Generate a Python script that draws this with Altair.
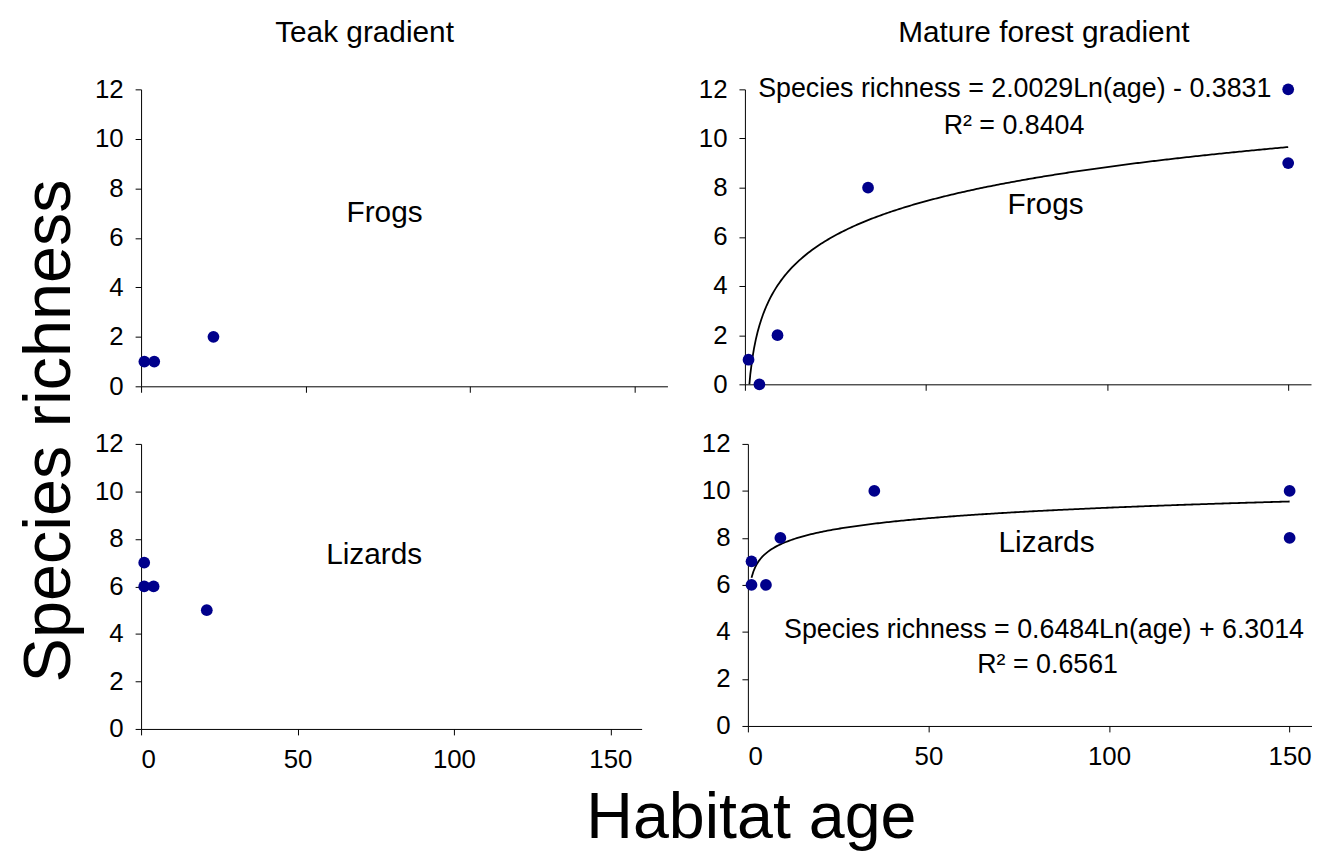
import altair as alt
import pandas as pd

# ---- data ----
teak_frog_age = [1, 4, 22]
teak_frog_rich = [1, 1, 2]
teak_liz_age = [1, 1, 4, 21]
teak_liz_rich = [7, 6, 6, 5]
mat_frog_age = [1, 4, 9, 34, 150, 150]
mat_frog_rich = [1, 0, 2, 8, 12, 9]
mat_liz_age = [1, 1, 5, 9, 35, 150, 150]
mat_liz_rich = [7, 6, 6, 8, 10, 10, 8]

# logarithmic trendlines shown in the figure: richness = a*ln(age) + b
frog_fit = [2.0029, -0.3831]
liz_fit = [0.6484, 6.3014]

x_ticks = [0, 50, 100, 150]
y_ticks = [0, 2, 4, 6, 8, 10, 12]

FONT = "Liberation Sans"
DOT = "#00008B"


def panel(ages, rich, width, height, xmax, xlabels, title=None, title_x=0,
          fit=None, group_label=None, eq=None):
    df = pd.DataFrame({"age": ages, "richness": rich})
    xs = alt.Scale(domain=[0, xmax], nice=False, zero=True)
    ys = alt.Scale(domain=[0, 12], nice=False)
    xax = alt.Axis(values=x_ticks, labels=xlabels, title=None, grid=False)
    yax = alt.Axis(values=y_ticks, title=None, grid=False)
    x = alt.X("age:Q", scale=xs, axis=xax)
    y = alt.Y("richness:Q", scale=ys, axis=yax)
    layers = []
    if fit is not None:
        line = (
            alt.Chart(alt.sequence(1, 150.01, 0.5, as_="age"))
            .transform_calculate(richness=f"{fit[0]}*log(datum.age)+({fit[1]})")
            .mark_line(color="black", strokeWidth=1.8, clip=True)
            .encode(x=x, y=y)
        )
        layers.append(line)
    pts = alt.Chart(df).mark_circle(size=140, color=DOT, opacity=1).encode(x=x, y=y)
    layers.append(pts)
    if group_label is not None:
        gl = (
            alt.Chart(pd.DataFrame([group_label]))
            .mark_text(fontSize=30, font=FONT, color="black")
            .encode(x=x, y=y, text="text:N")
        )
        layers.append(gl)
    if eq is not None:
        et = (
            alt.Chart(pd.DataFrame(eq))
            .mark_text(fontSize=27, font=FONT, color="black")
            .encode(x=x, y=y, text="text:N")
        )
        layers.append(et)
    if title is not None:
        tt = (
            alt.Chart(pd.DataFrame({"text": [title]}))
            .mark_text(fontSize=30, font=FONT, color="black", baseline="middle")
            .encode(x=alt.value(title_x), y=alt.value(-57), text="text:N")
        )
        layers.append(tt)
    return alt.layer(*layers).properties(width=width, height=height)


tl = panel(
    teak_frog_age, teak_frog_rich, 530, 299, 160, False,
    title="Teak gradient", title_x=225,
    group_label={"age": 74, "richness": 7.0, "text": "Frogs"},
)
tr = panel(
    mat_frog_age, mat_frog_rich, 570, 297, 156.3, False,
    title="Mature forest gradient", title_x=301,
    fit=frog_fit,
    group_label={"age": 83, "richness": 7.3, "text": "Frogs"},
    eq=[{"age": 74.5, "richness": 12, "text": "Species richness = 2.0029Ln(age) - 0.3831"},
        {"age": 74.3, "richness": 10.5, "text": "R² = 0.8404"}],
)
bl = panel(
    teak_liz_age, teak_liz_rich, 504, 287, 160, True,
    group_label={"age": 74.5, "richness": 7.3, "text": "Lizards"},
)
br = panel(
    mat_liz_age, mat_liz_rich, 568, 284, 156.2, True,
    fit=liz_fit,
    group_label={"age": 82.7, "richness": 7.8, "text": "Lizards"},
    eq=[{"age": 82, "richness": 4.1, "text": "Species richness = 0.6484Ln(age) + 6.3014"},
        {"age": 83, "richness": 2.58, "text": "R² = 0.6561"}],
)

row1 = alt.hconcat(tl, tr, spacing=31)
row2 = alt.hconcat(bl, br, spacing=60)
grid = alt.vconcat(row1, row2, spacing=32).properties(
    title=alt.TitleParams("Species richness", orient="left", fontSize=67, font=FONT,
                          fontWeight="normal", anchor="middle", offset=11, dx=-36,
                          color="black")
)
chart = (
    alt.vconcat(grid)
    .properties(
        title=alt.TitleParams("Habitat age", orient="bottom", fontSize=65, font=FONT,
                              fontWeight="normal", anchor="middle", offset=15, dx=88,
                              color="black"),
        padding={"left": 8, "top": 7, "right": 0, "bottom": 0},
    )
    .configure_axis(
        labelFont=FONT, labelFontSize=26, labelColor="black",
        domainColor="black", tickColor="black", domainWidth=1, tickWidth=1,
        tickSize=6, labelPadding=12, grid=False,
    )
    .configure_view(stroke=None)
    .configure_concat(spacing=0)
)

chart.save("out.html", embed_options={"renderer": "svg", "actions": False})
